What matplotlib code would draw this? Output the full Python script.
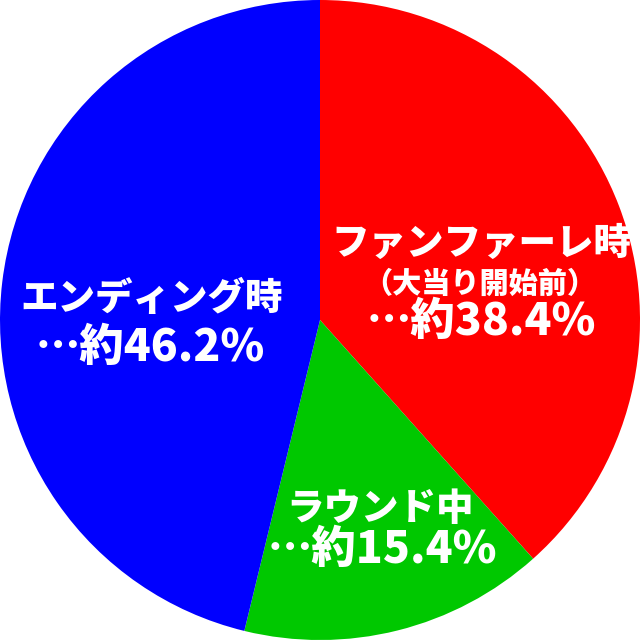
import matplotlib.pyplot as plt

plt.rcParams['font.family'] = ['Noto Sans CJK JP', 'DejaVu Sans']

labels = ["ファンファーレ時", "ラウンド中", "エンディング時"]
shares = [38.4, 15.4, 46.2]
colors = ["#ff0000", "#00c800", "#0000ff"]

W, H = 640, 641
fig = plt.figure(figsize=(W / 100, H / 100), dpi=100)
ax = fig.add_axes([0, 0, 1, 1])
ax.pie(shares, colors=colors, startangle=90, counterclock=False, radius=1.0)
ax.set_aspect('auto')
ax.set_xlim(-1, 1)
ax.set_ylim(-321 / 320, 1)
ax.axis('off')


def put(x, y, s, size):
    fig.text(x / W, 1 - y / H, s, color="white", fontsize=size, fontweight=900,
             ha="center", va="center")


# red slice
put(481, 244, labels[0], 27)
put(480, 284, "（大当り開始前）", 21)
put(481, 321, f"…約{shares[0]}%", 32)
# blue slice
put(152, 299, labels[2], 27)
put(150, 347, f"…約{shares[2]}%", 32)
# green slice
put(380, 509, labels[1], 27)
put(382, 549, f"…約{shares[1]}%", 32)

fig.savefig("out.png", dpi=100)
